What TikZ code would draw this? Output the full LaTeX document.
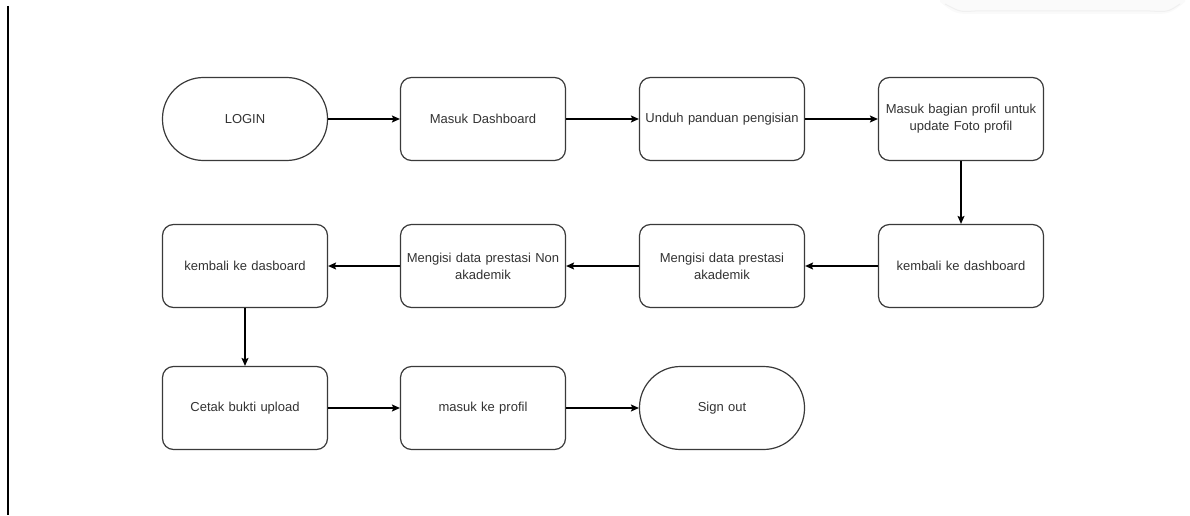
\documentclass[tikz,border=0pt]{standalone}
\usepackage{fontspec}
\setmainfont{Liberation Sans}
\usetikzlibrary{arrows.meta,positioning}
\definecolor{ln}{HTML}{3A3A3A}
\definecolor{tx}{HTML}{333333}
\tikzset{
  proc/.style={draw=ln, line width=1.2pt, rounded corners=11pt, minimum width=165pt, minimum height=83pt, text width=162pt, align=center, font=\fontsize{13}{17}\selectfont, text=tx, inner sep=0pt, fill=white},
  term/.style={proc, rounded corners=41pt},
  arr/.style={draw=black, line width=1.2pt, -{Stealth[length=8pt,width=7pt,inset=1.5pt]}}
}
\begin{document}
\begin{tikzpicture}[x=1pt,y=-1pt]
\useasboundingbox (0,0) rectangle (1190,516);
% faint shadow shape top right
\fill[black!2] (940,0) -- (1185,0) -- (1185,2) .. controls (1170,14) .. (1150,14) -- (975,14) .. controls (955,14) .. (940,2) -- cycle;
\draw[black!6, line width=1pt] (945,4) .. controls (960,12) .. (975,11) -- (1150,11) .. controls (1168,12) .. (1180,4);
\coordinate (la) at (8,6);
\coordinate (lb) at (8,515);
\draw[black, line width=1.2pt] (la) -- (lb);

\node[term] (n1) at (245,119) {LOGIN};
\node[proc] (n2) at (483,119) {Masuk Dashboard};
\node[proc] (n3) at (722,119) {Unduh panduan pengisian};
\node[proc] (n4) at (961,119) {Masuk bagian profil untuk\\update Foto profil};
\node[proc] (n5) at (961,266) {kembali ke dashboard};
\node[proc] (n6) at (722,266) {Mengisi data prestasi\\akademik};
\node[proc] (n7) at (483,266) {Mengisi data prestasi Non\\akademik};
\node[proc] (n8) at (245,266) {kembali ke dasboard};
\node[proc] (n9) at (245,408) {Cetak bukti upload};
\node[proc] (n10) at (483,408) {masuk ke profil};
\node[term] (n11) at (722,408) {Sign out};

\draw[arr] (n1) -- (n2);
\draw[arr] (n2) -- (n3);
\draw[arr] (n3) -- (n4);
\draw[arr] (n4) -- (n5);
\draw[arr] (n5) -- (n6);
\draw[arr] (n6) -- (n7);
\draw[arr] (n7) -- (n8);
\draw[arr] (n8) -- (n9);
\draw[arr] (n9) -- (n10);
\draw[arr] (n10) -- (n11);
\end{tikzpicture}
\end{document}
